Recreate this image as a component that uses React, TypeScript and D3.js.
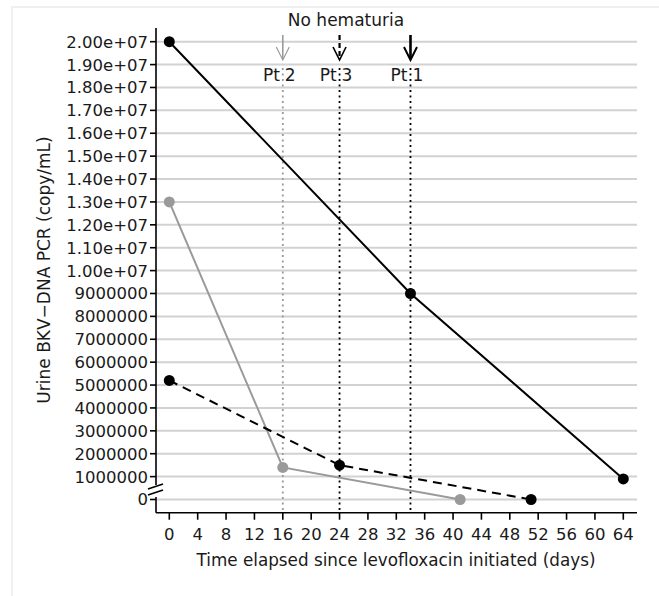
import React from "react";
import * as d3 from "d3";

// days since levofloxacin initiated, urine BKV-DNA PCR copies/mL
const pt1Days = [0, 34, 64];
const pt1Values = [20000000, 9000000, 900000];
const pt2Days = [0, 16, 41];
const pt2Values = [13000000, 1400000, 0];
const pt3Days = [0, 24, 51];
const pt3Values = [5200000, 1500000, 0];

// day hematuria resolved for each patient
const hematuriaPatients = ["2", "3", "1"];
const hematuriaDays = [16, 24, 34];

const yTickValues = [
  0, 1000000, 2000000, 3000000, 4000000, 5000000, 6000000, 7000000, 8000000,
  9000000, 10000000, 11000000, 12000000, 13000000, 14000000, 15000000,
  16000000, 17000000, 18000000, 19000000, 20000000,
];
const yTickLabels = [
  "0", "1000000", "2000000", "3000000", "4000000", "5000000", "6000000",
  "7000000", "8000000", "9000000", "1.00e+07", "1.10e+07", "1.20e+07",
  "1.30e+07", "1.40e+07", "1.50e+07", "1.60e+07", "1.70e+07", "1.80e+07",
  "1.90e+07", "2.00e+07",
];
const xTickValues = [0, 4, 8, 12, 16, 20, 24, 28, 32, 36, 40, 44, 48, 52, 56, 60, 64];

const W = 659;
const H = 596;
const FONT = "DejaVu Sans, sans-serif";
const GRAY = "#9a9a9a";
const INK = "#1a1a1a";

function App() {
  const x = d3.scaleLinear().domain([0, 64]).range([169.3, 623.3]);
  const y = d3.scaleLinear().domain([0, 20000000]).range([499.5, 41.7]);

  const axisX = 156;
  const axisY = 512.7;
  const plotRight = 637;
  const axisTop = 28;
  const breakY = y(500000);

  const line = d3
    .line<[number, number]>()
    .x((d) => x(d[0]))
    .y((d) => y(d[1]));

  const series = [
    { days: pt1Days, values: pt1Values, color: "#000", dash: undefined },
    { days: pt2Days, values: pt2Values, color: GRAY, dash: undefined },
    { days: pt3Days, values: pt3Values, color: "#000", dash: "9,6" },
  ];

  const arrowStyle: Record<string, { color: string; width: number; dash?: string }> = {
    "1": { color: "#000", width: 2.6 },
    "2": { color: GRAY, width: 1.6 },
    "3": { color: "#000", width: 2.2, dash: "5,3" },
  };

  return (
    <div style={{ position: "absolute", left: 0, top: 0 }}>
      <svg width={W} height={H} style={{ display: "block", fontFamily: FONT }}>
        <rect x={0} y={0} width={W} height={H} fill="#fff" />
        <path d={`M12,${H}V7H${W}`} fill="none" stroke="#e8eded" strokeWidth={1.5} />

        {/* gridlines */}
        {yTickValues.map((v) => (
          <line
            key={"g" + v}
            x1={axisX}
            x2={plotRight}
            y1={y(v)}
            y2={y(v)}
            stroke="#d2d2d2"
            strokeWidth={2}
          />
        ))}

        {/* hematuria markers */}
        <text x={346} y={26} fontSize={17} textAnchor="middle" fill={INK}>
          No hematuria
        </text>
        {hematuriaPatients.map((p, i) => {
          const cx = x(hematuriaDays[i]);
          const st = arrowStyle[p];
          return (
            <g key={"h" + p}>
              <line
                x1={cx}
                x2={cx}
                y1={35}
                y2={59}
                stroke={st.color}
                strokeWidth={st.width}
                strokeDasharray={st.dash}
              />
              <path
                d={`M${cx - 6.5},${47}L${cx},${60}L${cx + 6.5},${47}`}
                fill="none"
                stroke={st.color}
                strokeWidth={st.width * 0.75}
              />
              <text x={cx - 3} y={81} fontSize={17} textAnchor="end" fill={INK}>
                Pt
              </text>
              <text x={cx + 2} y={81} fontSize={17} textAnchor="start" fill={INK}>
                {p}
              </text>
              <line
                x1={cx}
                x2={cx}
                y1={68}
                y2={axisY}
                stroke={p === "2" ? GRAY : "#000"}
                strokeWidth={1.8}
                strokeDasharray="2,3.5"
              />
            </g>
          );
        })}

        {/* series */}
        {series.map((s, i) => {
          const pts = s.days.map((d, j) => [d, s.values[j]] as [number, number]);
          return (
            <g key={"s" + i}>
              <path
                d={line(pts) ?? ""}
                fill="none"
                stroke={s.color}
                strokeWidth={2}
                strokeDasharray={s.dash}
              />
              {pts.map((p, j) => (
                <circle key={j} cx={x(p[0])} cy={y(p[1])} r={5.5} fill={s.color} />
              ))}
            </g>
          );
        })}

        {/* y axis with break */}
        <line x1={axisX} x2={axisX} y1={axisTop} y2={breakY - 3} stroke="#000" strokeWidth={1.6} />
        <line x1={axisX} x2={axisX} y1={breakY + 9} y2={axisY} stroke="#000" strokeWidth={1.6} />
        <line x1={148} x2={163} y1={breakY + 1} y2={breakY - 4} stroke="#000" strokeWidth={1.6} />
        <line x1={148} x2={163} y1={breakY + 7} y2={breakY + 2} stroke="#000" strokeWidth={1.6} />
        {yTickValues.map((v, i) => (
          <g key={"yt" + v}>
            <line x1={axisX - 6} x2={axisX} y1={y(v)} y2={y(v)} stroke="#000" strokeWidth={1.6} />
            <text
              x={axisX - 8}
              y={y(v)}
              dy="0.36em"
              fontSize={16.5}
              textAnchor="end"
              fill={INK}
            >
              {yTickLabels[i]}
            </text>
          </g>
        ))}

        {/* x axis */}
        <line x1={axisX} x2={plotRight} y1={axisY} y2={axisY} stroke="#000" strokeWidth={1.6} />
        {xTickValues.map((v) => (
          <g key={"xt" + v}>
            <line x1={x(v)} x2={x(v)} y1={axisY} y2={axisY + 7} stroke="#000" strokeWidth={1.6} />
            <text x={x(v)} y={540} fontSize={16.5} textAnchor="middle" fill={INK}>
              {v}
            </text>
          </g>
        ))}

        <text x={396} y={566} fontSize={16.8} textAnchor="middle" fill={INK}>
          Time elapsed since levofloxacin initiated (days)
        </text>
        <text
          transform="translate(50,270) rotate(-90)"
          fontSize={17}
          textAnchor="middle"
          fill={INK}
        >
          Urine BKV−DNA PCR (copy/mL)
        </text>
      </svg>
    </div>
  );
}

export default App;
